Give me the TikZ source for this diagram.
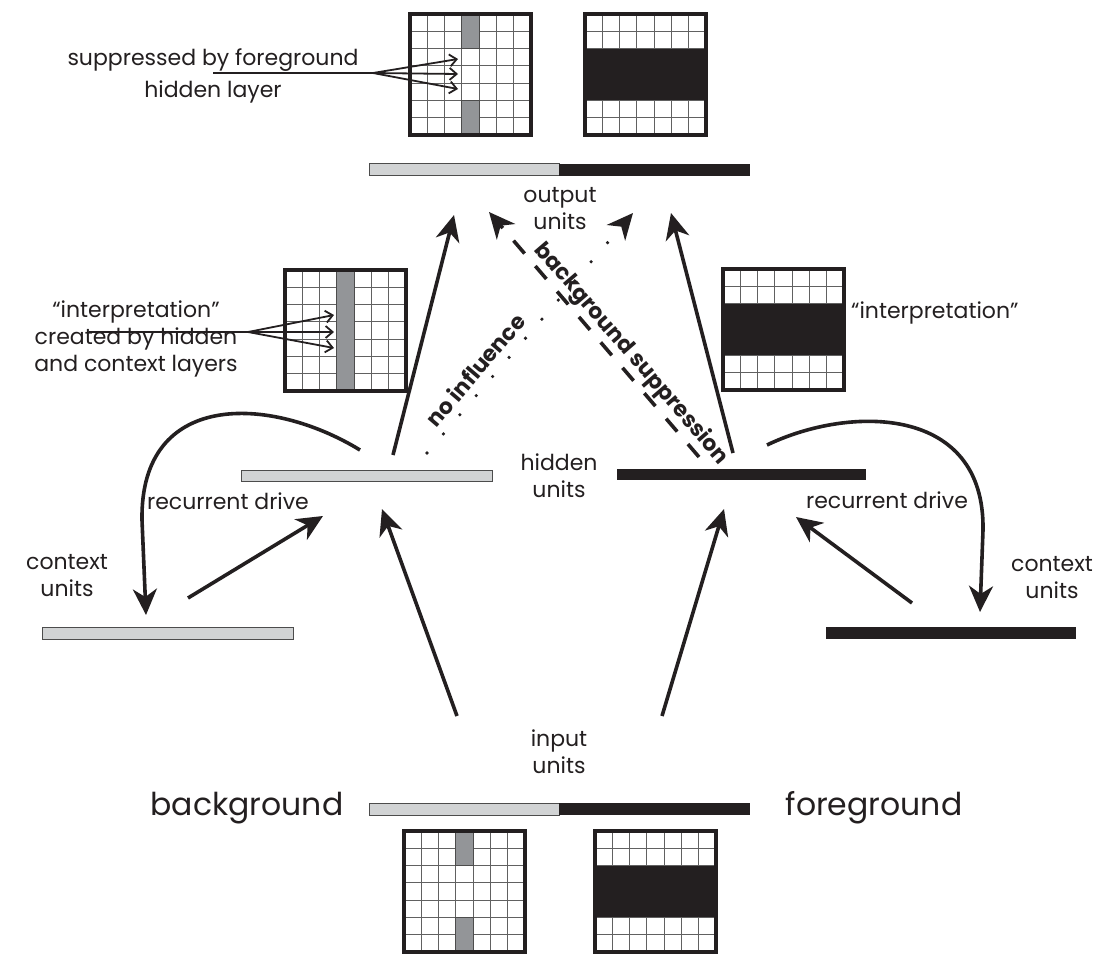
\documentclass[tikz,border=0pt]{standalone}
\usepackage{fontspec}
\setmainfont{Poppins}
\usetikzlibrary{arrows.meta}

\definecolor{barlight}{HTML}{D1D3D4}
\definecolor{stripegray}{HTML}{939598}
\definecolor{ink}{HTML}{231F20}

% width of one cell in the 7x7 unit grids (frame centre line to centre line / 7)
\newcommand\gcell{17.2857}

\tikzset{
  lbl/.style={inner sep=0pt, align=center, text=ink, font=\fontsize{22}{27}\selectfont},
  biglbl/.style={inner sep=0pt, text=ink, font=\fontsize{31.5}{36}\selectfont},
  rotlbl/.style={inner sep=0pt, text=ink, font=\fontsize{22}{27}\selectfont\bfseries},
  lbar/.style={rectangle, inner sep=0pt, outer sep=0pt, fill=barlight, draw=black!70, line width=1},
  kbar/.style={rectangle, inner sep=0pt, outer sep=0pt, fill=ink},
  arr/.style={draw=ink, line width=3.6, -{Stealth[length=26pt, width=24pt, inset=8pt]}},
  dotarr/.style={arr, line cap=round, dash pattern=on 0pt off 25.2pt},
  dasharr/.style={arr, dash pattern=on 17pt off 16.5pt},
  fan/.style={draw=ink, line width=1.8},
  fanarr/.style={fan, -{Straight Barb[length=7pt, width=12pt]}},
  gridline/.style={draw=black!62, line width=1.1},
  gridframe/.style={draw=ink, line width=4},
  pics/cellbase/.style={code={
    \foreach \i in {1,...,6}{
      \draw[gridline] ({2+\i*\gcell},2) -- ({2+\i*\gcell},123);
      \draw[gridline] (2,{2+\i*\gcell}) -- (123,{2+\i*\gcell});
    }}},
  % grey column broken in the middle
  pics/gapcolumn/.style={code={
    \pic {cellbase};
    \filldraw[fill=stripegray, draw=black!70, line width=1.1]
      ({2+3*\gcell},2) rectangle ({2+4*\gcell},{2+2*\gcell});
    \filldraw[fill=stripegray, draw=black!70, line width=1.1]
      ({2+3*\gcell},{2+5*\gcell}) rectangle ({2+4*\gcell},123);
    \draw[gridframe] (2,2) rectangle (123,123);}},
  % grey column through the whole grid
  pics/fullcolumn/.style={code={
    \pic {cellbase};
    \filldraw[fill=stripegray, draw=black!70, line width=1.1]
      ({2+3*\gcell},2) rectangle ({2+4*\gcell},123);
    \draw[gridframe] (2,2) rectangle (123,123);}},
  % black horizontal band across the middle rows
  pics/band/.style={code={
    \pic {cellbase};
    \fill[ink] (2,{2+2*\gcell}) rectangle (123,{2+5*\gcell});
    \draw[gridframe] (2,2) rectangle (123,123);}},
}

\begin{document}
\begin{tikzpicture}[x=1pt, y=-1pt]
\fill[white] (0,0) rectangle (1103,954);
\useasboundingbox (0,0) rectangle (1103,954);

% ---------- unit grids ----------
\pic (outBg) at (408,12) {gapcolumn};
\pic (outFg) at (583,12) {band};
\pic (intBg) at (283,268) {fullcolumn};
\pic (intFg) at (721,267) {band};
\pic (inBg)  at (402,829) {gapcolumn};
\pic (inFg)  at (593,829) {band};

% ---------- layers ----------
\node[lbar, minimum width=190, minimum height=12] (outG) at (464,169.5) {};
\node[kbar, minimum width=191, minimum height=12] (outK) at (654.5,169.5) {};
\node[lbar, minimum width=251, minimum height=11] (hidL) at (366.5,475.5) {};
\node[kbar, minimum width=249, minimum height=11] (hidR) at (741.5,474.5) {};
\node[lbar, minimum width=251, minimum height=12] (ctxL) at (167.5,633) {};
\node[kbar, minimum width=250, minimum height=12] (ctxR) at (951,633) {};
\node[lbar, minimum width=190, minimum height=12] (inG) at (464,809) {};
\node[kbar, minimum width=191, minimum height=12] (inK) at (654.5,809) {};

% ---------- labels ----------
\node[lbl] (suppLbl) at (213,76) {suppressed by foreground\\[5pt]hidden layer};
\node[lbl] (outLbl) at (560,209) {output\\units};
\node[lbl] (intLblL) at (136,339) {“interpretation”\\created by hidden\\and context layers};
\node[lbl, anchor=west] (intLblR) at (851,313) {“interpretation”};
\node[lbl] (hidLbl) at (559,476) {hidden\\units};
\node[lbl] (recLblL) at (228,501) {recurrent drive};
\node[lbl] (recLblR) at (887,500) {recurrent drive};
\node[lbl] (ctxLblL) at (67,576) {context\\units};
\node[lbl] (ctxLblR) at (1052,578) {context\\units};
\node[lbl] (inLbl) at (559,752) {input\\units};
\node[biglbl] (bgLbl) at (247,808) {background};
\node[biglbl] (fgLbl) at (874,808) {foreground};
\node[rotlbl, rotate=49.6] (noInf) at (475,370) {no influence};
\node[rotlbl, rotate=-49.3] (bgSup) at (631,354) {background suppression};

% ---------- connector end points ----------
\coordinate (hLup)   at (393,455);  \coordinate (oLin)  at (454,215);
\coordinate (hRup)   at (733,453);  \coordinate (oRin)  at (671,213);
\coordinate (hLdot)  at (427,453);  \coordinate (oDot)  at (633,213);
\coordinate (hRdash) at (699,457);  \coordinate (oDash) at (489,212);
\coordinate (iLup)   at (457,716);  \coordinate (hLin)  at (382,509);
\coordinate (iRup)   at (662,716);  \coordinate (hRin)  at (724,509);
\coordinate (cLup)   at (188,598);  \coordinate (hLctx) at (323,516);
\coordinate (cRup)   at (912,603);  \coordinate (hRctx) at (796,517);
\coordinate (hLrec)  at (360,450);  \coordinate (cLin)  at (146,615);
\coordinate (hRrec)  at (767,445);  \coordinate (cRin)  at (980,612);

% ---------- connectors ----------
\draw[arr] (hLup) -- (oLin);
\draw[arr] (hRup) -- (oRin);
\draw[dotarr] (hLdot) -- (oDot);
\draw[dasharr] (hRdash) -- (oDash);
\draw[arr] (iLup) -- (hLin);
\draw[arr] (iRup) -- (hRin);
\draw[arr] (cLup) -- (hLctx);
\draw[arr] (cRup) -- (hRctx);
\draw[arr] (hLrec) .. controls (270,395) and (140,390) .. (142,520) -- (cLin);
\draw[arr] (hRrec) .. controls (850,405) and (985,405) .. (983,530) -- (cRin);

% ---------- pointer fans ----------
\coordinate (fTs) at (213,73);  \coordinate (fTm) at (373,73);
\coordinate (fTa) at (458,59);  \coordinate (fTb) at (458,74);  \coordinate (fTc) at (458,89);
\draw[fan] (fTs) -- (fTm);
\draw[fanarr] (fTm) -- (fTa);
\draw[fanarr] (fTm) -- (fTb);
\draw[fanarr] (fTm) -- (fTc);

\coordinate (fLs) at (89,332);  \coordinate (fLm) at (248,332);
\coordinate (fLa) at (334,315); \coordinate (fLb) at (334,332); \coordinate (fLc) at (334,348);
\draw[fan] (fLs) -- (fLm);
\draw[fanarr] (fLm) -- (fLa);
\draw[fanarr] (fLm) -- (fLb);
\draw[fanarr] (fLm) -- (fLc);
\end{tikzpicture}
\end{document}
